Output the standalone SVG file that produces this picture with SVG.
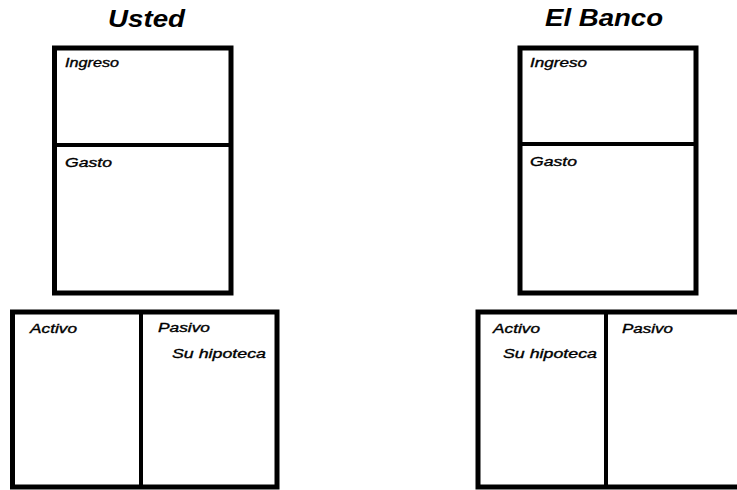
<svg xmlns="http://www.w3.org/2000/svg" width="737" height="490" viewBox="0 0 737 490">
<style>
.box{fill:none;stroke:#000;stroke-width:5;stroke-linejoin:miter}
.div{stroke:#000;stroke-width:4}
.title{font-family:"Liberation Sans",Arial,sans-serif;font-style:italic;font-weight:bold;font-size:24px;fill:#000;text-anchor:middle}
.lbl{font-family:"Liberation Sans",Arial,sans-serif;font-style:italic;font-size:13px;fill:#000;stroke:#000;stroke-width:0.35}
</style>
<rect width="737" height="490" fill="#fff"/>
<g id="usted-title"><text class="title" x="146.5" y="27" textLength="77" lengthAdjust="spacingAndGlyphs">Usted</text></g>
<g id="banco-title"><text class="title" x="604" y="26" textLength="118" lengthAdjust="spacingAndGlyphs">El Banco</text></g>
<g id="usted-resultados">
<rect class="box" x="54.5" y="48" width="176.5" height="245"/>
<line class="div" x1="54.5" y1="145" x2="231" y2="145"/>
<text class="lbl" x="65" y="67" textLength="54" lengthAdjust="spacingAndGlyphs">Ingreso</text>
<text class="lbl" x="65" y="167" textLength="47" lengthAdjust="spacingAndGlyphs">Gasto</text>
</g>
<g id="banco-resultados">
<rect class="box" x="520" y="48" width="176" height="245"/>
<line class="div" x1="520" y1="144" x2="696" y2="144"/>
<text class="lbl" x="530" y="67" textLength="57" lengthAdjust="spacingAndGlyphs">Ingreso</text>
<text class="lbl" x="530" y="166" textLength="47" lengthAdjust="spacingAndGlyphs">Gasto</text>
</g>
<g id="usted-balance">
<rect class="box" x="12.5" y="312" width="264.5" height="175"/>
<line class="div" x1="141" y1="312" x2="141" y2="487"/>
<text class="lbl" x="30" y="333" textLength="47" lengthAdjust="spacingAndGlyphs">Activo</text>
<text class="lbl" x="158" y="332" textLength="52" lengthAdjust="spacingAndGlyphs">Pasivo</text>
<text class="lbl" x="172" y="358" textLength="94" lengthAdjust="spacingAndGlyphs">Su hipoteca</text>
</g>
<g id="banco-balance">
<rect class="box" x="478" y="312" width="270" height="175"/>
<line class="div" x1="606" y1="312" x2="606" y2="487"/>
<text class="lbl" x="493" y="333" textLength="47" lengthAdjust="spacingAndGlyphs">Activo</text>
<text class="lbl" x="503" y="358" textLength="94" lengthAdjust="spacingAndGlyphs">Su hipoteca</text>
<text class="lbl" x="622" y="333" textLength="51" lengthAdjust="spacingAndGlyphs">Pasivo</text>
</g>
<g id="connectors"/>
</svg>
